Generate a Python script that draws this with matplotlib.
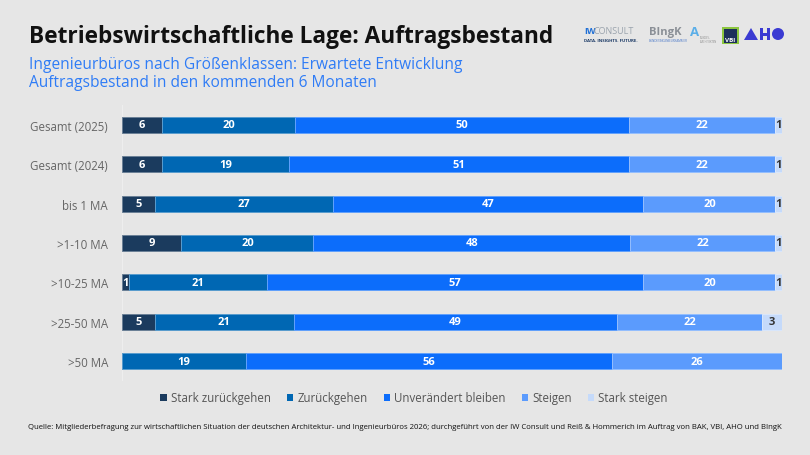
import matplotlib
matplotlib.use("Agg")
import matplotlib.pyplot as plt
from matplotlib.patches import Rectangle, Ellipse, Polygon
import numpy as np

# ---------------- data ----------------
categories = ["Gesamt (2025)", "Gesamt (2024)", "bis 1 MA", ">1-10 MA",
              ">10-25 MA", ">25-50 MA", ">50 MA"]
series_names = ["Stark zurückgehen", "Zurückgehen", "Unverändert bleiben",
                "Steigen", "Stark steigen"]
stark_zurueck = [6, 6, 5, 9, 1, 5, 0]
zurueck = [20, 19, 27, 20, 21, 21, 19]
unveraendert = [50, 51, 47, 48, 57, 49, 56]
steigen = [22, 22, 20, 22, 20, 22, 26]
stark_steigen = [1, 1, 1, 1, 1, 3, 0]

title = "Betriebswirtschaftliche Lage: Auftragsbestand"
subtitle1 = "Ingenieurbüros nach Größenklassen: Erwartete Entwicklung"
subtitle2 = "Auftragsbestand in den kommenden 6 Monaten"
source = ("Quelle: Mitgliederbefragung zur wirtschaftlichen Situation der deutschen "
          "Architektur- und Ingenieurbüros 2026; durchgeführt von der IW Consult und "
          "Reiß & Hommerich im Auftrag von BAK, VBI, AHO und BIngK")

# ---------------- style ----------------
BG = "#e6e6e6"
colors = ["#1b3b5e", "#0067b3", "#0c6dfb", "#5b9bfd", "#c5dafa"]
label_colors = ["white", "white", "white", "white", "#333333"]
FONT = ["Open Sans", "DejaVu Sans"]
plt.rcParams["font.family"] = FONT

W, H = 810, 456
fig = plt.figure(figsize=(W / 100, H / 100), dpi=100, facecolor=BG)


def fx(px):
    return px / W


def fy(py):
    return 1 - py / H


ax = fig.add_axes([fx(122), fy(382), fx(660), (382 - 106) / H])
ax.set_facecolor(BG)

data = np.array([stark_zurueck, zurueck, unveraendert, steigen, stark_steigen], dtype=float)
totals = data.sum(axis=0)
norm = data / totals * 100
y = np.arange(len(categories))


def lighten(c, f=0.35):
    rgb = np.array(matplotlib.colors.to_rgb(c))
    return tuple(rgb + (1 - rgb) * f)


left = np.zeros(len(categories))
handles = []
for i, name in enumerate(series_names):
    bars = ax.barh(y, norm[i], left=left, height=0.405, color=colors[i],
                   edgecolor=lighten(colors[i]), linewidth=0.7, label=name)
    handles.append(bars)
    for j in range(len(categories)):
        v = data[i, j]
        if v > 0:
            ax.text(left[j] + norm[i, j] / 2, y[j], f"{int(v)}", ha="center",
                    va="center", color=label_colors[i], fontsize=8,
                    fontweight="bold")
    left += norm[i]

ax.set_xlim(0, 100)
ax.set_ylim(len(categories) - 0.5, -0.5)
ax.set_yticks(y)
ax.set_yticklabels(categories, fontsize=8.3, color="#666666")
ax.tick_params(axis="y", length=0, pad=10)
ax.set_xticks([])
for s in ax.spines.values():
    s.set_visible(False)
ax.axvline(0, color="#eeeeee", lw=0.8, zorder=0)

# ---------------- texts ----------------
fig.text(fx(29), fy(37), title, fontsize=16.3, fontweight="bold", color="#111111",
         va="center", ha="left")
fig.text(fx(29), fy(65), subtitle1, fontsize=11.2, color="#2f7cf6", va="center")
fig.text(fx(29), fy(83), subtitle2, fontsize=11.2, color="#2f7cf6", va="center")

leg = fig.legend(handles=handles, labels=series_names, loc="center",
                 bbox_to_anchor=(fx(414), fy(399)), ncol=5, frameon=False,
                 fontsize=8.3, handlelength=0.55, handleheight=0.55,
                 handletextpad=0.35, columnspacing=1.4, labelcolor="#555555")
for h in leg.legend_handles:
    h.set_linewidth(0)

fig.text(fx(28), fy(428), source, fontsize=5.55, color="#111111", va="center")

# ---------------- logos (approximation) ----------------
fig.text(fx(584), fy(31), "IW", fontsize=6.5, fontweight="bold", color="#1f6fd6", va="center")
fig.text(fx(594), fy(31), "CONSULT", fontsize=6.5, color="#9aa3ad", va="center")
fig.text(fx(584), fy(41.5), "DATA. INSIGHTS. FUTURE.", fontsize=3.2, color="#1c3a66",
         va="center", fontweight="bold")
fig.text(fx(649), fy(32), "BIngK", fontsize=8, fontweight="bold", color="#8a8f96", va="center")
fig.text(fx(649), fy(41.5), "BUNDESINGENIEURKAMMER", fontsize=2.2, color="#4a78c8", va="center")
fig.text(fx(690), fy(33), "A", fontsize=9.5, fontweight="bold", color="#5aaee8", va="center")
fig.text(fx(700), fy(40), "BUNDES-\nARCHITEKTEN", fontsize=1.8, color="#888888", va="center",
         linespacing=1.0)
fig.patches.append(Rectangle((fx(722), fy(45)), fx(17), 17 / H, transform=fig.transFigure,
                             facecolor="#8cc63f", edgecolor="none"))
fig.patches.append(Rectangle((fx(723.5), fy(44)), fx(13), 14 / H, transform=fig.transFigure,
                             facecolor="#1c2f5a", edgecolor="none"))
fig.text(fx(730), fy(40), "VBI", fontsize=4.5, fontweight="bold", color="white",
         va="center", ha="center")
AHO = "#3a3ad2"
fig.patches.append(Polygon([(fx(744), fy(41)), (fx(751), fy(29)), (fx(758), fy(41))],
                           closed=True, transform=fig.transFigure, facecolor=AHO,
                           edgecolor="none"))
fig.patches.append(Rectangle((fx(760), fy(41)), fx(3), 12 / H, transform=fig.transFigure,
                             facecolor=AHO, edgecolor="none"))
fig.patches.append(Rectangle((fx(767), fy(41)), fx(3), 12 / H, transform=fig.transFigure,
                             facecolor=AHO, edgecolor="none"))
fig.patches.append(Rectangle((fx(760), fy(36.5)), fx(10), 3 / H, transform=fig.transFigure,
                             facecolor=AHO, edgecolor="none"))
fig.patches.append(Ellipse((fx(778), fy(35)), 12 / W, 12 / H, transform=fig.transFigure,
                           facecolor=AHO, edgecolor="none"))

fig.savefig("out.png", dpi=100, facecolor=BG)
